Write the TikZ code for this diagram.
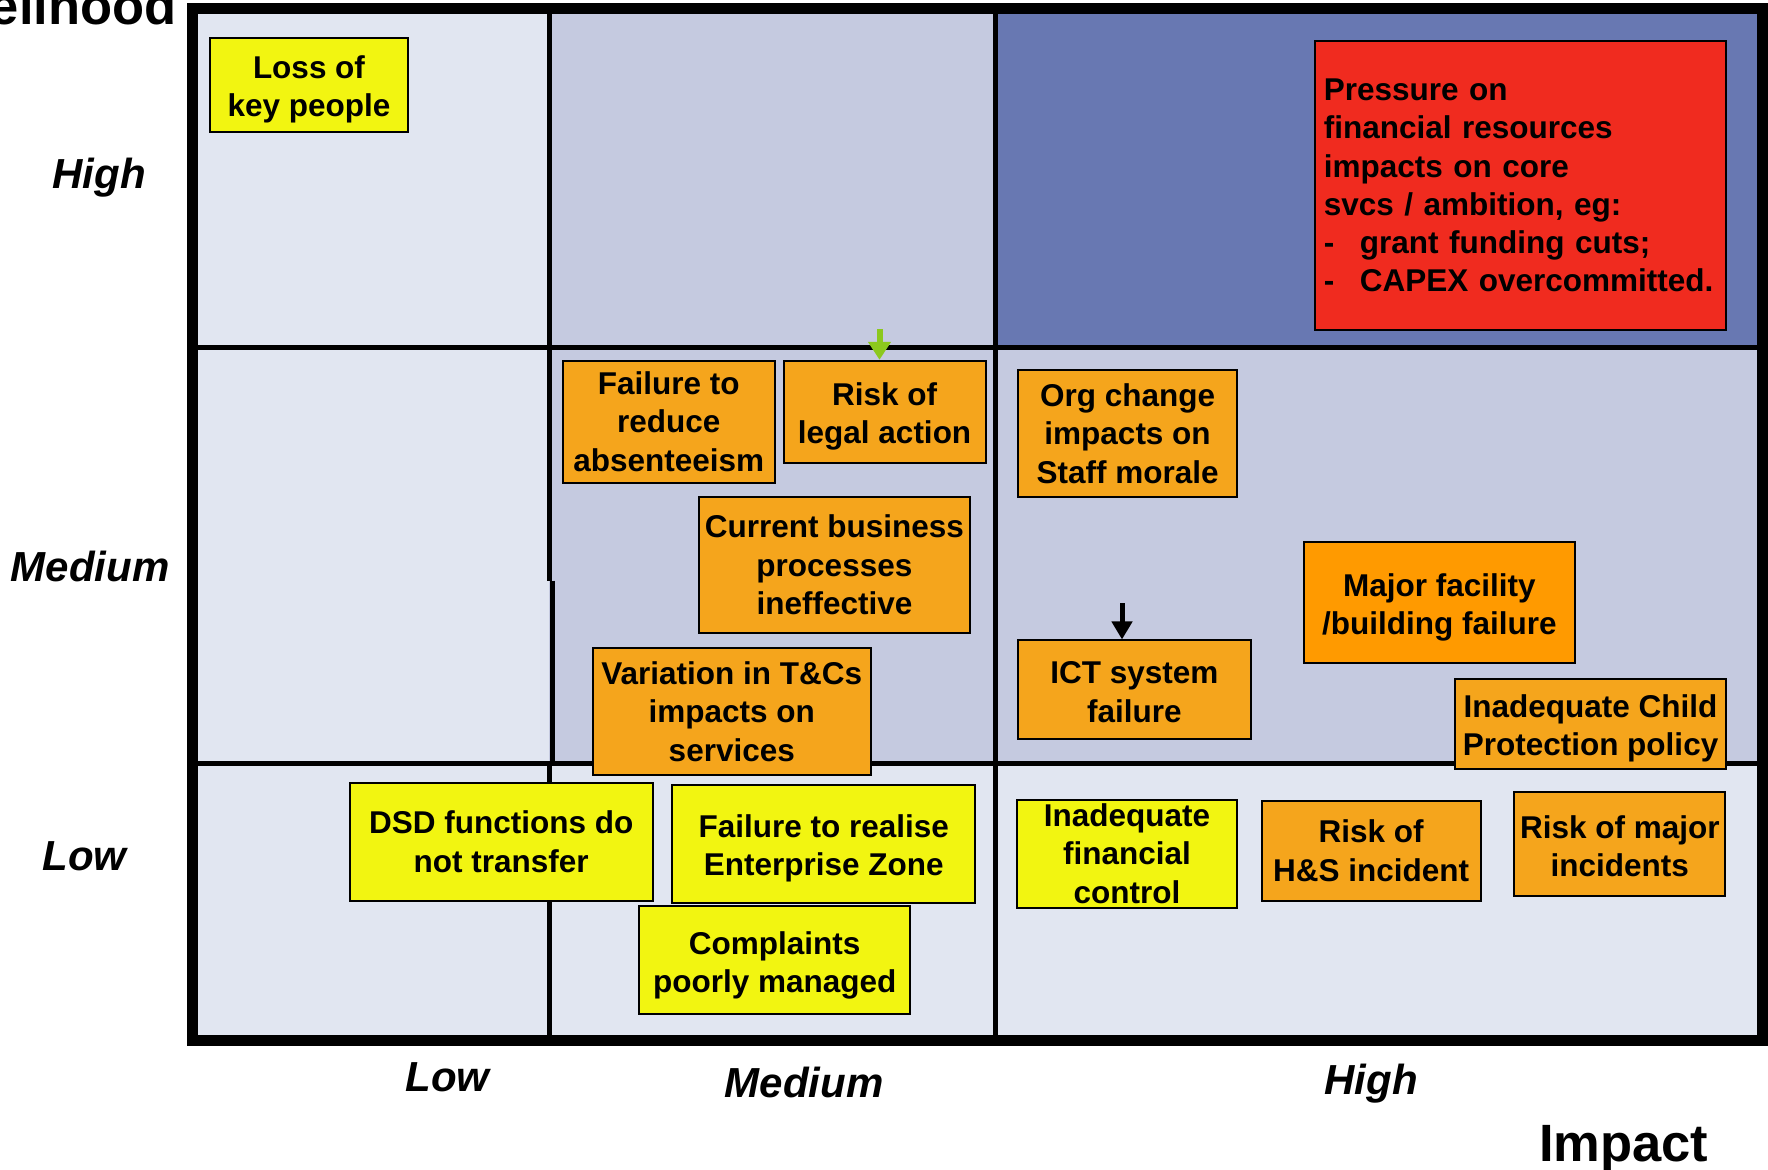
\documentclass[tikz,border=0pt]{standalone}
\usepackage{fontspec}
\setmainfont{Liberation Sans}
\usetikzlibrary{arrows.meta}
\definecolor{celllight}{HTML}{E1E6F1}
\definecolor{cellmid}{HTML}{C5CAE0}
\definecolor{celldark}{HTML}{6878B2}
\definecolor{riskyellow}{HTML}{F2F511}
\definecolor{riskorange}{HTML}{F5A51C}
\definecolor{riskdeep}{HTML}{FF9A00}
\definecolor{riskred}{HTML}{F02B1F}
\definecolor{arrowgreen}{HTML}{8CC81E}
\newcommand{\boxfont}{\fontsize{31.5}{38.3}\selectfont\bfseries}
\newcommand{\levelfont}{\fontsize{42}{48}\selectfont\bfseries\itshape}
\newcommand{\titlefont}{\fontsize{52.5}{60}\selectfont\bfseries}
\newcommand{\topstrut}[1]{\rule{0pt}{#1}}

\begin{document}
\begin{tikzpicture}[x=1pt, y=-1pt,
    riskbox/.style={draw=black, line width=2pt, inner sep=2pt, align=center, font=\boxfont},
    yrisk/.style={riskbox, fill=riskyellow},
    orisk/.style={riskbox, fill=riskorange},
    level/.style={font=\levelfont, anchor=base},
    axistitle/.style={font=\titlefont},
    trendarrow/.style={line width=5pt, -{Triangle[width=20pt,length=18pt]}}]
    \useasboundingbox (0,0) rectangle (1768,1169);

    \fill[celllight] (192.8,9) rectangle (1762,1040);
    \fill[cellmid] (549,9) rectangle (995.7,763.4);
    \fill[cellmid] (995.7,347.3) rectangle (1762,763.4);
    \fill[celldark] (995.7,9) rectangle (1762,347.3);

    \draw[line width=5pt] (549,9) -- (549,580.7);
    \draw[line width=5pt] (552,580.7) -- (552,763.4);
    \draw[line width=5pt] (549,763.4) -- (549,1040);
    \draw[line width=5pt] (995.7,9) -- (995.7,1040);
    \draw[line width=5pt] (192.8,347.3) -- (1762,347.3);
    \draw[line width=5pt] (192.8,763.4) -- (1762,763.4);
    \draw[line width=11pt] (192.8,9) rectangle (1762,1040);

    \node[axistitle, anchor=base east] (likelihood) at (180,25) {Likelihood};
    \node[axistitle, anchor=base] (impact) at (1623.7,1161.4) {Impact};
    \node[level] (lhigh) at (99,188.3) {High};
    \node[level] (lmed) at (90,581.8) {Medium};
    \node[level] (llow) at (84.6,870.5) {Low};
    \node[level] (ilow) at (447.6,1091.5) {Low};
    \node[level] (imed) at (804,1097) {Medium};
    \node[level] (ihigh) at (1371,1094) {High};

    \node[yrisk, minimum width=198.5pt, minimum height=93.6pt] (keypeople) at (309,85.1) {\topstrut{32pt}Loss of\\key people};
    \node[riskbox, fill=riskred, align=left, text width=393.6pt, inner xsep=9pt, minimum height=289.8pt] (pressure) at (1520.6,185.5)
        {Pressure on\\financial resources\\impacts on core\\svcs / ambition, eg:\\\makebox[36pt][l]{-}grant funding cuts;\\\makebox[36pt][l]{-}CAPEX overcommitted.};
    \node[orisk, minimum width=212pt, minimum height=121.8pt] (absence) at (668.7,421.7) {Failure to\\reduce\\absenteeism};
    \node[orisk, minimum width=201.8pt, minimum height=102.6pt] (legal) at (884.6,412.1) {\topstrut{32pt}Risk of\\legal action};
    \node[orisk, minimum width=218.8pt, minimum height=127.4pt] (morale) at (1127.6,433.6) {Org change\\impacts on\\Staff morale};
    \node[orisk, minimum width=270.6pt, minimum height=135.3pt] (process) at (834.4,565) {Current business\\processes\\ineffective};
    \node[orisk, minimum width=277.4pt, minimum height=126.3pt] (terms) at (731.8,711.5) {Variation in T\&Cs\\impacts on\\services};
    \node[orisk, minimum width=232.3pt, minimum height=98.1pt] (ict) at (1134.4,689.5) {\topstrut{27.5pt}ICT system\\failure};
    \node[riskbox, fill=riskdeep, minimum width=271.8pt, minimum height=120.6pt] (facility) at (1439.4,602.7) {\topstrut{32pt}Major facility\\/building failure};
    \node[orisk, minimum width=271.8pt, minimum height=90.2pt] (childprot) at (1590.5,723.9) {\topstrut{32pt}Inadequate Child\\Protection policy};
    \node[yrisk, minimum width=303.3pt, minimum height=118.4pt] (dsd) at (501.2,841.8) {DSD functions do\\not transfer};
    \node[yrisk, minimum width=303.4pt, minimum height=118.4pt] (enterprise) at (823.7,844) {\topstrut{32pt}Failure to realise\\Enterprise Zone};
    \node[yrisk, minimum width=270.6pt, minimum height=108.2pt] (complaints) at (774.7,959.6) {\topstrut{34pt}Complaints\\poorly managed};
    \node[yrisk, minimum width=219.9pt, minimum height=108.2pt] (fincontrol) at (1127,853.6) {Inadequate\\financial\\control};
    \node[orisk, minimum width=218.7pt, minimum height=100.4pt] (hands) at (1371.2,850.8) {Risk of\\H\&S incident};
    \node[orisk, minimum width=210.8pt, minimum height=104.8pt] (majorinc) at (1619.8,844) {\topstrut{27.5pt}Risk of major\\incidents};

    \coordinate (legaltail) at (879.5,329);
    \coordinate (icttail) at (1122,603);
    \draw[trendarrow, arrowgreen, line width=6pt, -{Triangle[width=22pt,length=18pt]}] (legaltail) -- (legaltail |- legal.north);
    \draw[trendarrow, black] (icttail) -- (icttail |- ict.north);
\end{tikzpicture}
\end{document}
